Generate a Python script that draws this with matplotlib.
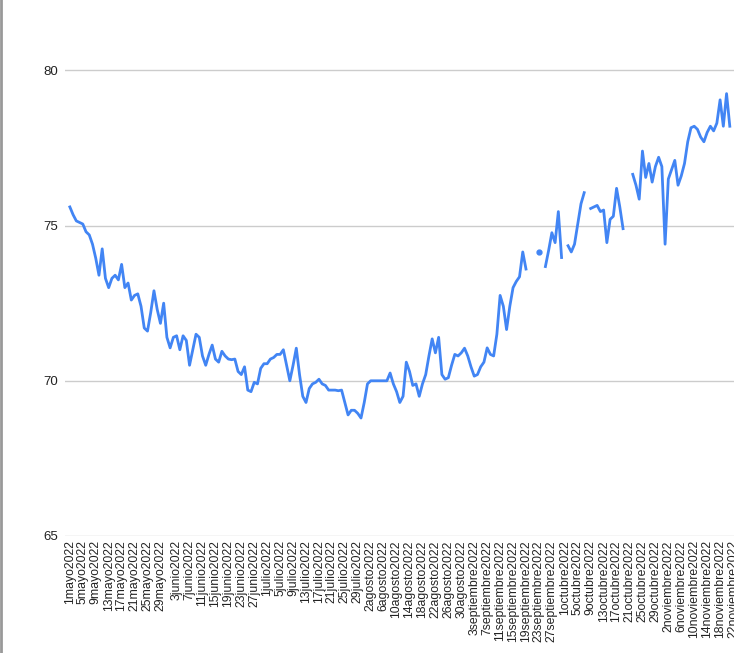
import numpy as np
import pandas as pd
import matplotlib.pyplot as plt
from matplotlib.lines import Line2D

plt.rcParams['font.family'] = ['Liberation Sans', 'DejaVu Sans']

nan = np.nan
# daily values from 1 mayo 2022 (gaps = nan)
values = [
    75.6, 75.35, 75.15, 75.1, 75.05, 74.8, 74.7, 74.4, 73.95, 73.4,
    74.25, 73.3, 73.0, 73.3, 73.4, 73.25, 73.75, 73.0, 73.15, 72.6,
    72.75, 72.8, 72.4, 71.7, 71.6, 72.2, 72.9, 72.3, 71.85, 72.5,
    71.4, 71.06, 71.4, 71.45, 71.0, 71.45, 71.3, 70.5, 71.0, 71.5,
    71.4, 70.8, 70.5, 70.85, 71.15, 70.7, 70.6, 70.95, 70.8, 70.7,
    70.68, 70.7, 70.3, 70.2, 70.45, 69.7, 69.65, 69.95, 69.9, 70.4,
    70.55, 70.55, 70.7, 70.75, 70.85, 70.85, 71.0, 70.5, 70.0, 70.5,
    71.05, 70.2, 69.5, 69.3, 69.75, 69.9, 69.95, 70.05, 69.9, 69.85,
    69.7, 69.7, 69.7, 69.68, 69.7, 69.3, 68.9, 69.05, 69.05, 68.95,
    68.8, 69.3, 69.9, 70.0, 70.0, 70.0, 70.0, 70.0, 70.0, 70.25,
    69.9, 69.65, 69.3, 69.5, 70.6, 70.3, 69.85, 69.9, 69.5, 69.9,
    70.2, 70.8, 71.35, 70.9, 71.4, 70.2, 70.05, 70.1, 70.5, 70.85,
    70.8, 70.9, 71.05, 70.8, 70.45, 70.15, 70.2, 70.45, 70.6, 71.06,
    70.85, 70.8, 71.5, 72.75, 72.4, 71.65, 72.4, 73.0, 73.2, 73.35,
    74.15, 73.6, nan, nan, nan, 74.16, nan, 73.68, 74.2, 74.77,
    74.45, 75.45, 73.97, nan, 74.35, 74.15, 74.4, 75.06, 75.7, 76.06,
    nan, 75.55, 75.6, 75.65, 75.45, 75.5, 74.45, 75.2, 75.3, 76.2,
    75.6, 74.9, nan, nan, 76.65, 76.3, 75.85, 77.4, 76.55, 77.0,
    76.4, 76.9, 77.2, 76.9, 74.4, 76.5, 76.8, 77.1, 76.3, 76.6,
    77.0, 77.7, 78.15, 78.2, 78.1, 77.85, 77.7, 78.0, 78.2, 78.05,
    78.3, 79.05, 78.2, 79.25, 78.2,
]
month_names = {5: "mayo", 6: "junio", 7: "julio", 8: "agosto",
               9: "septiembre", 10: "octubre", 11: "noviembre"}
start = pd.Timestamp("2022-05-01")
# labels follow the 1,5,9.. pattern restarting after May
tick_dates = pd.DatetimeIndex(
    list(pd.date_range("2022-05-01", "2022-05-29", freq="4D"))
    + list(pd.date_range("2022-06-03", "2022-11-22", freq="4D")))
tick_pos = [(d - start).days for d in tick_dates]
tick_labels = [f"{d.day}{month_names[d.month]}{d.year}" for d in tick_dates]

fig = plt.figure(figsize=(7.34, 6.53), dpi=100)
ax = fig.add_axes([65 / 734, 1 - 536 / 653, 669 / 734, 506 / 653])
x = np.arange(len(values))
ax.plot(x, values, color="#4285f4", lw=2, solid_joinstyle="round")
# isolated point
for i, v in enumerate(values):
    prev_nan = i == 0 or np.isnan(values[i - 1])
    next_nan = i == len(values) - 1 or np.isnan(values[i + 1])
    if not np.isnan(v) and prev_nan and next_nan:
        ax.plot(i, v, "o", color="#4285f4", ms=3.5)

ax.set_xlim(-1.5, 205.3)
ax.set_ylim(65, 81.3)
ax.set_yticks([65, 70, 75, 80])
ax.grid(axis="y", color="#cccccc", lw=1)
ax.set_axisbelow(True)
for s in ax.spines.values():
    s.set_visible(False)
ax.tick_params(axis="y", length=0, labelsize=9.5, labelcolor="#222222", pad=5)
ax.set_xticks(tick_pos)
ax.set_xticklabels(tick_labels, rotation=90, fontsize=8.8, color="#222222")
ax.tick_params(axis="x", length=0, pad=3)
fig.add_artist(Line2D([0.002, 0.002], [0, 1], color="#999999", lw=2))
fig.savefig("out.png")
